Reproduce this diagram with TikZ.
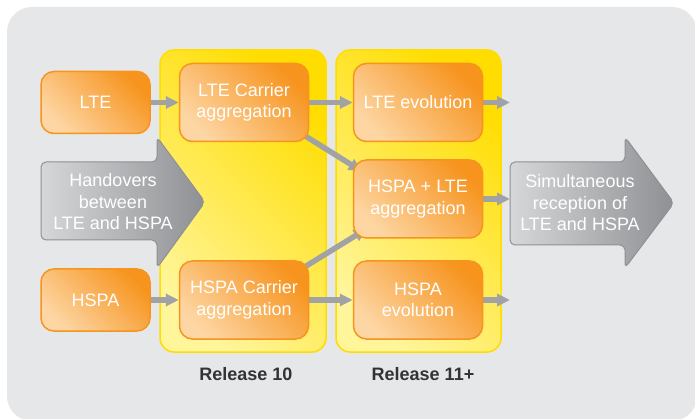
\documentclass[tikz,border=0pt]{standalone}
\usepackage{fontspec}
\setmainfont{Liberation Sans}
\usetikzlibrary{arrows.meta,calc}

\definecolor{bggray}{HTML}{E6E7E8}
\definecolor{orangeL}{HTML}{FDD6A4}
\definecolor{orangeD}{HTML}{F7941E}
\definecolor{yellowL}{HTML}{FFF59A}
\definecolor{yellowD}{HTML}{FFDD00}
\definecolor{arrowL}{HTML}{D5D7D9}
\definecolor{arrowD}{HTML}{8E9093}
\definecolor{linkgray}{HTML}{A0A2A5}
\definecolor{labelgray}{HTML}{333333}

\pgfdeclarelayer{back}
\pgfdeclarelayer{links}
\pgfsetlayers{back,links,main}

\tikzset{
  techbox/.style={rounded corners=13pt, draw=orangeD, line width=1.5pt,
    bottom color=orangeL, top color=orangeD, shading angle=-45,
    minimum width=129pt, minimum height=78pt, inner sep=0pt,
    align=center, text=white, font=\fontsize{18}{21.5}\selectfont},
  srcbox/.style={techbox, minimum width=109pt, minimum height=62pt},
  relbox/.style={rounded corners=14pt, draw=yellowD, line width=1.5pt,
    bottom color=yellowL, top color=yellowD, shading angle=-45},
  bigarrow/.style={rounded corners=5pt, draw=arrowD, line width=1pt,
    left color=arrowL, right color=arrowD},
  arrowtext/.style={align=center, text=white, inner sep=0pt,
    font=\fontsize{18}{21.5}\selectfont},
  rellabel/.style={text=labelgray, font=\bfseries\fontsize{18}{21.5}\selectfont},
  link/.style={draw=linkgray, line width=5.5pt, -{Triangle[length=13pt,width=12pt]}}
}

\begin{document}
\begin{tikzpicture}[x=1pt, y=-1pt]
  \useasboundingbox (0,0) rectangle (695,419);

  % Background and release areas
  \begin{pgfonlayer}{back}
    \fill[bggray, rounded corners=25pt] (7,7) rectangle (697,421);
    \path[relbox] (160,50) rectangle (326,352);
    \path[relbox] (336,50) rectangle (501,352);
  \end{pgfonlayer}

  % Big grey arrows
  \path[bigarrow] (41,162) -- (157,162) -- (157,137) -- (205,202)
    -- (157,268) -- (157,240) -- (41,240) -- cycle;
  \node[arrowtext] (handover) at (113,202) {Handovers\\between\\LTE and HSPA};
  \path[bigarrow] (510,162) -- (625,162) -- (625,137) -- (674,203)
    -- (625,268) -- (625,245) -- (510,245) -- cycle;
  \node[arrowtext] (simul) at (580,203) {Simultaneous\\reception of\\LTE and HSPA};

  % Technology boxes
  \node[srcbox] (lte) at (95.5,102.5) {LTE};
  \node[techbox] (ltecar) at (244,102.5) {LTE Carrier\\aggregation};
  \node[techbox] (lteevo) at (418,102.5) {LTE evolution};
  \node[techbox] (hspalte) at (418,199) {HSPA + LTE\\aggregation};
  \node[srcbox] (hspa) at (95.5,300) {HSPA};
  \node[techbox] (hspacar) at (244,300) {HSPA Carrier\\aggregation};
  \node[techbox] (hspaevo) at (418,300) {HSPA\\evolution};

  \coordinate (lteend) at (510,102.5);
  \coordinate (simin) at (510,199);
  \coordinate (hspaend) at (510,300);

  % Release labels
  \node[rellabel] (rel10) at (246,374) {Release 10};
  \node[rellabel] (rel11) at (423,374) {Release 11+};

  % Connectors
  \begin{pgfonlayer}{links}
    \draw[link] (lte.east) -- (ltecar.west);
    \draw[link] (ltecar.east) -- (lteevo.west);
    \draw[link] (lteevo.east) -- (lteend);
    \draw[link] ($(ltecar.south east)+(-10,-10)$) -- ($(hspalte.north west)+(9,12)$);
    \draw[link] ($(hspacar.north east)+(-10,10)$) -- ($(hspalte.south west)+(14,-10)$);
    \draw[link] (hspalte.east) -- (simin);
    \draw[link] (hspa.east) -- (hspacar.west);
    \draw[link] (hspacar.east) -- (hspaevo.west);
    \draw[link] (hspaevo.east) -- (hspaend);
  \end{pgfonlayer}
\end{tikzpicture}
\end{document}
